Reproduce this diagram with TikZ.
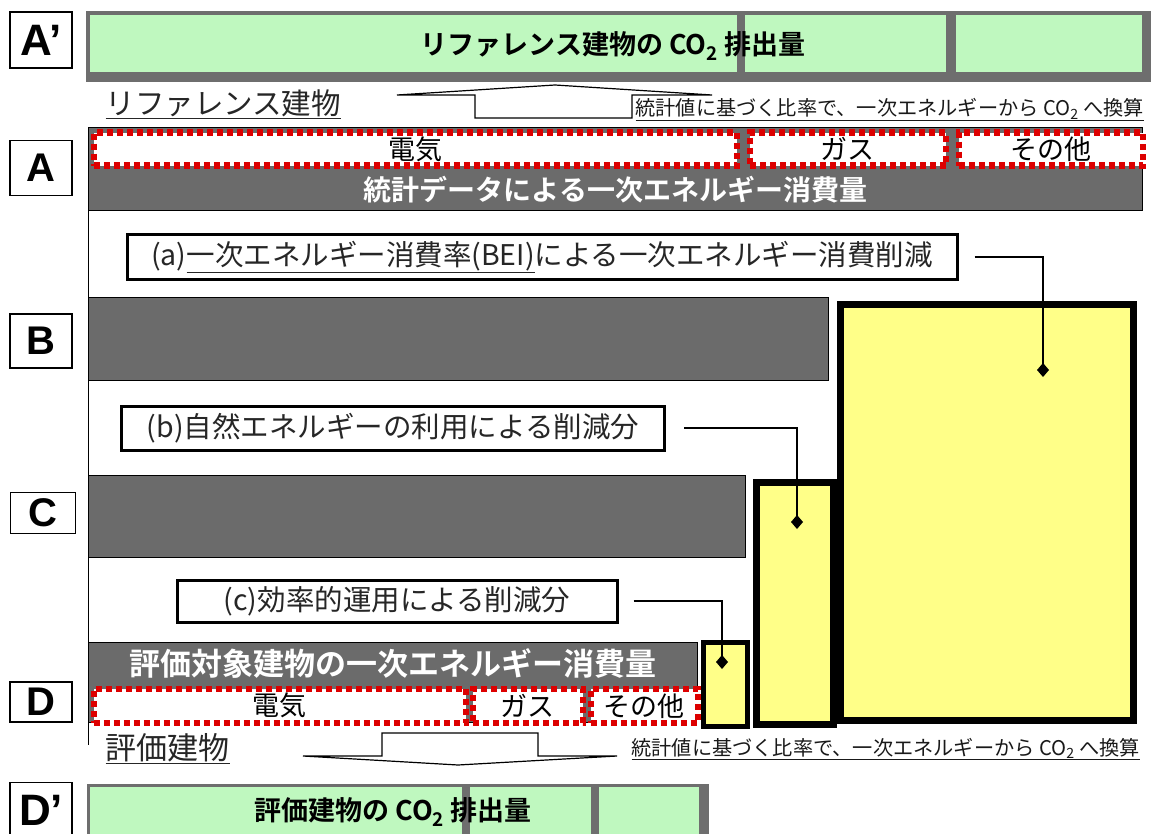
\documentclass[tikz,border=0pt]{standalone}
\usepackage{fontspec}
\setmainfont{Noto Sans CJK JP}[BoldFont={* Bold}]
\newfontfamily\latinsans{Liberation Sans}
\usepackage{tikz}
\usetikzlibrary{arrows.meta,positioning,calc}
\definecolor{bargray}{HTML}{6B6B6B}
\definecolor{framegray}{HTML}{6E6E6E}
\definecolor{co2green}{HTML}{BFF8BF}
\definecolor{cutyellow}{HTML}{FFFF88}
\definecolor{dotred}{HTML}{DD0000}
\tikzset{
  rowlabel/.style={draw=black,line width=1.5pt,fill=white,minimum width=62pt,inner sep=0pt,
    font=\latinsans\bfseries\fontsize{40}{40}\selectfont},
  graybar/.style={draw=black,line width=1pt,fill=bargray,anchor=north west,inner sep=0pt},
  bartext/.style={text=white,font=\bfseries\fontsize{28}{28}\selectfont},
  fuelbox/.style={draw=dotred,line width=6.5pt,dash pattern=on 6pt off 4pt,fill=white,
    anchor=north west,inner sep=0pt,font=\fontsize{27}{27}\selectfont},
  co2frame/.style={draw=framegray,line width=7pt,fill=framegray,anchor=north west,inner sep=0pt},
  co2cell/.style={fill=co2green,anchor=north west,inner sep=0pt},
  co2text/.style={font=\bfseries\fontsize{27}{27}\selectfont},
  cutbox/.style={draw=black,line width=7pt,fill=cutyellow,anchor=north west,inner sep=0pt},
  notebox/.style={draw=black,line width=3pt,fill=white,inner sep=0pt,text=black!85,
    font=\fontsize{28.5}{28.5}\selectfont},
  leader/.style={line width=2pt,-{Diamond[length=14pt,width=12pt]}},
  blockarrow/.style={draw=black,line width=1.2pt,fill=white,line join=miter},
  convtext/.style={anchor=base west,text=black!90,font=\fontsize{20.2}{20.2}\selectfont},
  bldname/.style={anchor=west,text=black!85,font=\fontsize{29.5}{29.5}\selectfont}
}
\begin{document}
\begin{tikzpicture}[x=1pt,y=-1pt]
  \useasboundingbox (0,0) rectangle (1161,834);
  \clip (0,0) rectangle (1161,834);
  % A' : CO2 of the reference building
  \node[rowlabel,minimum height=56pt,font=\latinsans\bfseries\fontsize{44}{44}\selectfont] (lblAp) at (41,40) {A’};
  \node[co2frame,minimum width=1058pt,minimum height=64pt] (frameAp) at (86,11) {};
  \node[co2cell,minimum width=647pt,minimum height=57pt] (cellAp1) at (90,15) {};
  \node[co2cell,minimum width=201pt,minimum height=57pt] (cellAp2) at (745,15) {};
  \node[co2cell,minimum width=186pt,minimum height=57pt] (cellAp3) at (956,15) {};
  \node[co2text] (txtAp) at (613,46) {リファレンス建物の CO\textsubscript{2} 排出量};
  % conversion up
  \node[bldname] (nameRef) at (102,104) {\underline{リファレンス建物}};
  \draw[blockarrow] (397,95) -- (475,95) -- (475,118) -- (632,118) -- (632,95)
    -- (712,95) -- (555,85) -- cycle;
  \node[convtext] (convAp) at (632,116) {\underline{統計値に基づく比率で、一次エネルギーから CO\textsubscript{2} へ換算}};
  % A : statistics
  \node[rowlabel,minimum height=55pt] (lblA) at (41,168) {A};
  \node[graybar,minimum width=1054pt,minimum height=83pt] (barA) at (88,127) {};
  \node[bartext,above=4pt of barA.south] (txtA) {統計データによる一次エネルギー消費量};
  \node[fuelbox,minimum width=643pt,minimum height=33pt] (elecA) at (90.5,129.5) {電気};
  \node[fuelbox,minimum width=196pt,minimum height=33pt] (gasA) at (746.5,129.5) {ガス};
  \node[fuelbox,minimum width=184pt,minimum height=33pt] (otherA) at (955.5,129.5) {その他};
  \coordinate (axisEnd) at (88,745);
  \draw[line width=1pt] (barA.south west) -- (axisEnd);
  % (a) BEI
  \node[notebox,minimum width=830pt,minimum height=45pt] (noteA) at (542,257)
    {(a)\underline{一次エネルギー消費率(BEI)}による一次エネルギー消費削減};
  \node[rowlabel,minimum height=54pt] (lblB) at (41,341) {B};
  \node[graybar,minimum width=740pt,minimum height=83pt] (barB) at (88,297) {};
  % (b) natural energy
  \node[notebox,minimum width=543pt,minimum height=44pt] (noteB) at (393,428)
    {(b)自然エネルギーの利用による削減分};
  \node[rowlabel,minimum width=65pt,minimum height=41pt] (lblC) at (43,513) {C};
  \node[graybar,minimum width=657pt,minimum height=82pt] (barC) at (88,475) {};
  % (c) operation
  \node[notebox,minimum width=440pt,minimum height=42pt] (noteC) at (397,601)
    {(c)効率的運用による削減分};
  % D : evaluated building
  \node[rowlabel,minimum height=40pt] (lblD) at (41,702) {D};
  \node[graybar,minimum width=609pt,minimum height=80pt] (barD) at (88,642) {};
  \node[bartext,below=3pt of barD.north,font=\bfseries\fontsize{31}{31}\selectfont] (txtD) {評価対象建物の一次エネルギー消費量};
  \node[fuelbox,minimum width=372pt,minimum height=34pt] (elecD) at (90.5,685.5) {電気};
  \node[fuelbox,minimum width=110pt,minimum height=34pt] (gasD) at (469.5,685.5) {ガス};
  \node[fuelbox,minimum width=107pt,minimum height=34pt] (otherD) at (587.5,685.5) {その他};
  % reductions
  \node[cutbox,minimum width=77pt,minimum height=242pt] (cutB) at (752.5,478.5) {};
  \node[cutbox,minimum width=293pt,minimum height=416pt] (cutA) at (836.5,300.5) {};
  \node[cutbox,line width=5pt,minimum width=44pt,minimum height=84pt] (cutC) at (700.5,639.5) {};
  \coordinate (tipA) at (1043,377);
  \coordinate (tipB) at (797,529);
  \coordinate (tipC) at (722,669);
  \draw[leader] ([xshift=16pt]noteA.east) -| (tipA);
  \draw[leader] ([xshift=18pt]noteB.east) -| (tipB);
  \draw[leader] ([xshift=15pt]noteC.east) -| (tipC);
  % conversion down
  \node[bldname,font=\fontsize{31}{31}\selectfont] (nameEval) at (102,749) {\underline{評価建物}};
  \draw[blockarrow] (382,733) -- (538,733) -- (538,756) -- (617,756) -- (458,765)
    -- (303,756) -- (382,756) -- cycle;
  \node[convtext] (convDp) at (628,755) {\underline{統計値に基づく比率で、一次エネルギーから CO\textsubscript{2} へ換算}};
  % D' : CO2 of the evaluated building
  \node[rowlabel,minimum height=55pt,font=\latinsans\bfseries\fontsize{44}{44}\selectfont] (lblDp) at (41,810) {D’};
  \node[co2frame,minimum width=615pt,minimum height=62pt] (frameDp) at (86.5,783.5) {};
  \node[co2cell,minimum width=372pt,minimum height=60pt] (cellDp1) at (90,787) {};
  \node[co2cell,minimum width=121pt,minimum height=60pt] (cellDp2) at (470,787) {};
  \node[co2cell,minimum width=100pt,minimum height=60pt] (cellDp3) at (599,787) {};
  \node[co2text] (txtDp) at (393,812) {評価建物の CO\textsubscript{2} 排出量};
\end{tikzpicture}
\end{document}
